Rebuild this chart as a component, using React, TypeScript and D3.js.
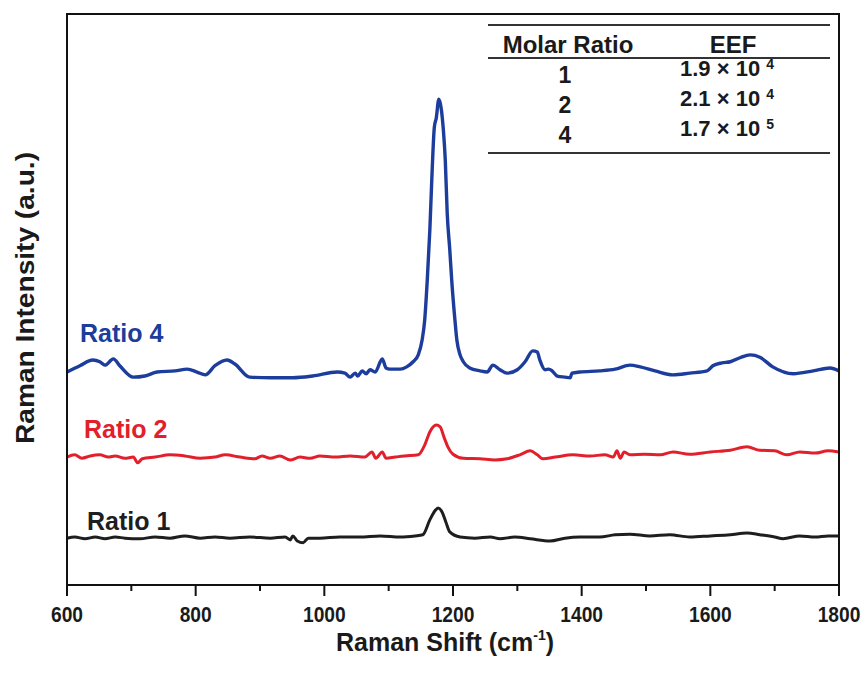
import React from "react";
import * as d3 from "d3";

// ---- data (Raman shift cm^-1, intensity a.u.) ----
const ratio4: [number, number][] = [
  [600, 37.3], [620, 38.4], [640, 39.4], [651, 39.1], [659, 38.5], [672, 39.6], [682, 38.4],
  [703, 36.4], [721, 36.6], [740, 37.3], [768, 37.5], [787, 37.8], [802, 37.3], [815, 36.8],
  [830, 38.4], [849, 39.4], [861, 38.7], [884, 36.4], [916, 36.3], [951, 36.3], [982, 36.6],
  [1020, 37.3], [1032, 37.1], [1040, 36.4], [1048, 37.1], [1052, 36.6], [1059, 37.5],
  [1065, 37.0], [1071, 37.7], [1079, 37.3], [1090, 39.6], [1096, 38.0], [1102, 37.8],
  [1118, 37.8], [1128, 38.2], [1138, 39.1], [1146, 40.3], [1152, 42.9], [1156, 46.4],
  [1160, 53.4], [1164, 62.2], [1167, 70.9], [1171, 80.2], [1174, 81.8], [1178, 85.1],
  [1182, 83.2], [1185, 79.7], [1188, 74.4], [1191, 65.1], [1195, 58.7], [1198, 53.4],
  [1203, 46.4], [1206, 42.9], [1211, 40.3], [1216, 39.1], [1226, 38.0], [1242, 37.5],
  [1253, 37.3], [1262, 38.5], [1273, 37.7], [1284, 37.1], [1300, 37.7], [1312, 39.1],
  [1324, 41.0], [1331, 40.8], [1335, 39.4], [1343, 37.7], [1349, 37.8], [1354, 37.5],
  [1362, 36.6], [1374, 36.4], [1382, 36.3], [1385, 37.1], [1397, 37.3], [1428, 37.5],
  [1452, 37.8], [1475, 38.5], [1491, 38.2], [1514, 37.5], [1542, 36.8], [1568, 37.1],
  [1595, 37.5], [1604, 38.4], [1618, 38.9], [1631, 39.1], [1646, 39.8], [1662, 40.3],
  [1677, 39.9], [1697, 38.2], [1729, 37.0], [1760, 37.5], [1786, 38.0], [1800, 37.5],
];

const ratio2: [number, number][] = [
  [600, 22.4], [612, 22.8], [623, 22.2], [636, 22.6], [651, 22.8], [664, 22.4], [675, 22.6],
  [690, 22.2], [703, 22.4], [710, 21.4], [717, 22.1], [737, 22.4], [760, 22.8], [783, 22.6],
  [807, 22.2], [830, 22.4], [846, 22.8], [869, 22.4], [892, 22.1], [903, 22.6], [916, 22.2],
  [931, 22.6], [947, 21.9], [962, 22.4], [978, 22.2], [993, 22.6], [1017, 22.4], [1040, 22.6],
  [1063, 22.4], [1074, 23.3], [1080, 22.2], [1090, 23.3], [1096, 22.2], [1110, 22.4],
  [1125, 22.6], [1146, 22.8], [1156, 24.5], [1164, 26.8], [1174, 28.0], [1180, 27.7],
  [1186, 25.9], [1192, 24.2], [1200, 22.9], [1216, 22.2], [1242, 22.1], [1265, 21.9],
  [1284, 22.1], [1304, 22.8], [1320, 23.5], [1331, 22.8], [1340, 22.1], [1359, 22.4],
  [1387, 22.8], [1413, 22.6], [1436, 22.8], [1449, 22.4], [1455, 23.5], [1460, 22.2],
  [1466, 23.3], [1475, 22.8], [1498, 22.9], [1522, 22.8], [1542, 23.3], [1568, 22.9],
  [1600, 23.3], [1631, 23.6], [1657, 24.2], [1677, 23.6], [1700, 23.5], [1719, 22.8],
  [1739, 23.3], [1763, 23.1], [1783, 23.5], [1800, 23.3],
];

const ratio1: [number, number][] = [
  [600, 8.2], [612, 8.4], [628, 8.1], [644, 8.4], [659, 8.1], [675, 8.4], [690, 8.2],
  [713, 8.1], [737, 8.4], [760, 8.2], [783, 8.6], [807, 8.2], [830, 8.4], [853, 8.2],
  [884, 8.4], [916, 8.2], [939, 8.4], [947, 7.9], [951, 8.6], [958, 7.7], [967, 7.4],
  [975, 8.2], [993, 8.2], [1024, 8.4], [1055, 8.4], [1087, 8.6], [1118, 8.4], [1141, 8.6],
  [1153, 8.8], [1164, 11.4], [1172, 13.0], [1177, 13.5], [1183, 12.8], [1189, 11.0],
  [1195, 9.3], [1211, 8.4], [1234, 8.2], [1258, 8.4], [1273, 8.1], [1296, 8.4], [1320, 8.1],
  [1351, 7.7], [1374, 8.2], [1397, 8.4], [1428, 8.4], [1452, 8.8], [1475, 8.9], [1506, 8.6],
  [1537, 8.8], [1568, 8.4], [1600, 8.6], [1631, 8.8], [1657, 9.1], [1677, 8.8], [1700, 8.4],
  [1713, 8.1], [1739, 8.6], [1763, 8.4], [1783, 8.6], [1800, 8.6],
];

const seriesNames = ["Ratio 4", "Ratio 2", "Ratio 1"];
const seriesColors = ["#1c3d9c", "#e2202c", "#1e1e1e"];
const xTicks = [600, 800, 1000, 1200, 1400, 1600, 1800];
const xMinorTicks = [700, 900, 1100, 1300, 1500, 1700];

const tableHeaders = ["Molar Ratio", "EEF"];
const molarRatios = ["1", "2", "4"];
const eefMantissa = ["1.9", "2.1", "1.7"];
const eefExponent = ["4", "4", "5"];

const W = 867;
const H = 673;
const M = { left: 67, right: 28, top: 14, bottom: 88 };

export default function App() {
  const x = d3.scaleLinear().domain([600, 1800]).range([M.left, W - M.right]);
  const y = d3.scaleLinear().domain([0, 100]).range([H - M.bottom, M.top]);
  const line = d3
    .line<[number, number]>()
    .x((d) => x(d[0]))
    .y((d) => y(d[1]))
    .curve(d3.curveMonotoneX);

  const series = [ratio4, ratio2, ratio1];
  const labelPos = [
    { x: 80, y: 342 },
    { x: 84, y: 438 },
    { x: 87, y: 530 },
  ];
  const font = "'Liberation Sans', Arial, sans-serif";
  const yb = H - M.bottom;

  const tx0 = 488;
  const tx1 = 830;
  const colMolar = 568;
  const colEEF = 733;
  const rowBase = [83, 113, 143];

  return (
    <svg
      width={W}
      height={H}
      style={{ position: "absolute", left: 0, top: 0, background: "#fff" }}
      fontFamily={font}
    >
      {/* curves */}
      {series.map((s, i) => (
        <path
          key={i}
          d={line(s) || ""}
          fill="none"
          stroke={seriesColors[i]}
          strokeWidth={i === 0 ? 3.4 : 3}
          strokeLinejoin="round"
        />
      ))}
      {seriesNames.map((n, i) => (
        <text
          key={n}
          x={labelPos[i].x}
          y={labelPos[i].y}
          fill={seriesColors[i]}
          fontSize={25}
          fontWeight="bold"
        >
          {n}
        </text>
      ))}

      {/* frame */}
      <rect
        x={M.left}
        y={M.top}
        width={W - M.left - M.right}
        height={H - M.top - M.bottom}
        fill="none"
        stroke="#111"
        strokeWidth={2}
      />

      {/* x ticks */}
      {xTicks.map((t) => (
        <g key={t}>
          <line x1={x(t)} x2={x(t)} y1={yb} y2={yb + 11} stroke="#111" strokeWidth={2} />
          <text
            transform={`translate(${x(t)},622) scale(0.96,1.12)`}
            textAnchor="middle"
            fontSize={20}
            fontWeight="bold"
            fill="#1a1a1a"
          >
            {t}
          </text>
        </g>
      ))}
      {xMinorTicks.map((t) => (
        <line key={t} x1={x(t)} x2={x(t)} y1={yb} y2={yb + 6} stroke="#111" strokeWidth={2} />
      ))}

      {/* axis titles */}
      <text x={445} y={651} textAnchor="middle" fontSize={25} fontWeight="bold" fill="#1a1a1a">
        Raman Shift (cm
        <tspan fontSize={14} dy={-11}>-1</tspan>
        <tspan dy={11}>)</tspan>
      </text>
      <text
        transform={`translate(34,${298}) rotate(-90)`}
        textAnchor="middle"
        fontSize={25}
        fontWeight="bold"
        fill="#1a1a1a"
        textLength={292}
        lengthAdjust="spacingAndGlyphs"
      >
        Raman Intensity (a.u.)
      </text>

      {/* table */}
      <line x1={tx0} x2={tx1} y1={25} y2={25} stroke="#333" strokeWidth={2} />
      <line x1={tx0} x2={tx1} y1={58} y2={58} stroke="#333" strokeWidth={2} />
      <line x1={tx0} x2={tx1} y1={153} y2={153} stroke="#333" strokeWidth={2} />
      <text x={colMolar} y={53} textAnchor="middle" fontSize={24} fontWeight="bold" fill="#1a1a1a">
        {tableHeaders[0]}
      </text>
      <text x={colEEF} y={53} textAnchor="middle" fontSize={24} fontWeight="bold" fill="#1a1a1a">
        {tableHeaders[1]}
      </text>
      {molarRatios.map((r, i) => (
        <text
          key={r}
          x={565}
          y={rowBase[i]}
          textAnchor="middle"
          fontSize={23}
          fontWeight="bold"
          fill="#1a1a1a"
        >
          {r}
        </text>
      ))}
      {eefMantissa.map((m, i) => (
        <text key={i} x={680} y={rowBase[i] - 7} fontSize={22} fontWeight="bold" fill="#1a1a1a">
          {m} × 10
          <tspan fontSize={14} dx={6} dy={-7}>
            {eefExponent[i]}
          </tspan>
        </text>
      ))}
    </svg>
  );
}
